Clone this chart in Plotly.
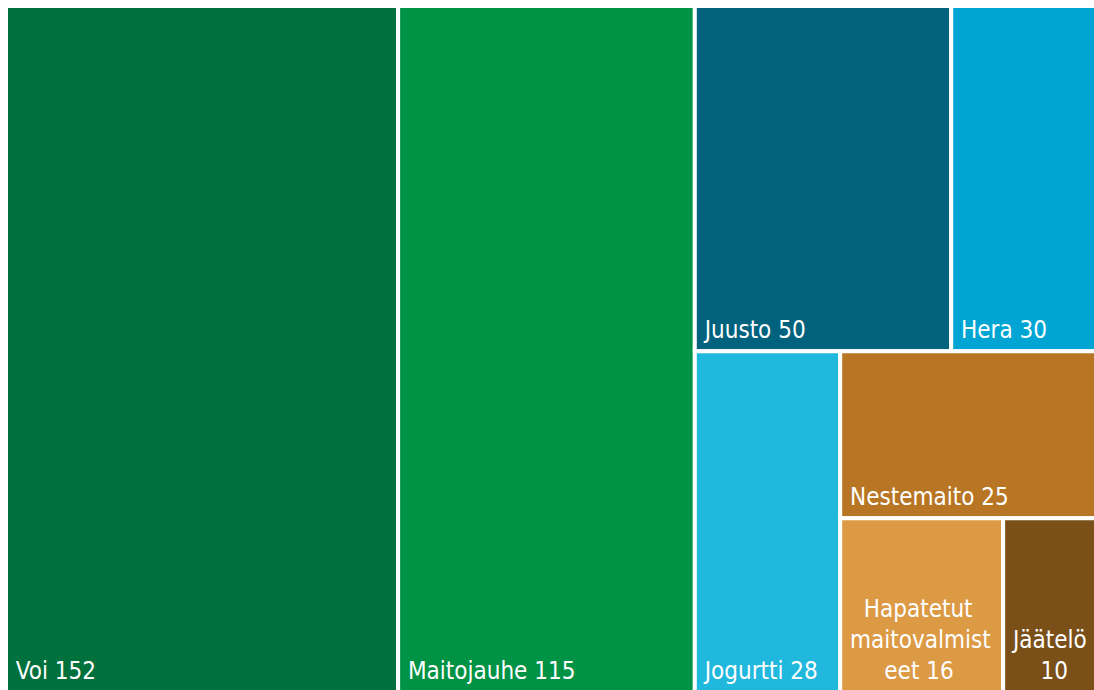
import plotly.graph_objects as go

# Data
labels = ["Voi", "Maitojauhe", "Juusto", "Hera", "Jogurtti", "Nestemaito",
          "Hapatetut maitovalmisteet", "Jäätelö"]
values = [152, 115, 50, 30, 28, 25, 16, 10]
# how the long names wrap (and are centred) inside their small boxes
wrapped_lines = {
    "Hapatetut maitovalmisteet": ["Hapatetut", "maitovalmist", "eet"],
    "Jäätelö": ["Jäätelö", ""],
}
colors = ["#00703C", "#009245", "#00627D", "#00A5D3", "#21B8DD", "#B87624",
          "#DC9A45", "#7A4F18"]

NB = "\u00a0"
# invisible tall spacer at the end: lifts the label off the tile's bottom edge
LIFT = '<span style="font-size:44px">' + NB + "</span>"
# extra leading spaces to centre the shorter wrapped lines
centre_pad = {"Hapatetut": 2, "maitovalmist": 0, "eet": 5, "Jäätelö": 0, "": 4}

texts = []
for lab, val in zip(labels, values):
    if lab in wrapped_lines:
        lines = list(wrapped_lines[lab])
        lines[-1] = (lines[-1] + " " + str(val)).strip()
        keys = wrapped_lines[lab]
        out = [NB * (1 + centre_pad[k]) + ln for k, ln in zip(keys, lines)]
        texts.append("<br>".join(out) + LIFT)
    else:
        texts.append(NB + f"{lab} {val}" + LIFT)

fig = go.Figure(go.Treemap(
    labels=labels,
    parents=[""] * len(labels),
    values=values,
    text=texts,
    texttemplate="%{text}",
    textposition="bottom left",
    textfont=dict(family="DejaVu Sans Condensed, DejaVu Sans, sans-serif",
                  size=24, color="white"),
    marker=dict(colors=colors, line=dict(color="white", width=4),
                pad=dict(t=0, l=0, r=0, b=0)),
    tiling=dict(packing="binary", pad=0),
    pathbar=dict(visible=False),
    sort=True,
    hoverinfo="label+value",
))

fig.update_layout(
    width=1105, height=692,
    margin=dict(l=6, t=6, r=0, b=0),
    paper_bgcolor="white",
    plot_bgcolor="white",
)

fig.write_html(
    "out.html",
    config={"displayModeBar": False},
    post_script=(
        "document.documentElement.style.overflow='hidden';"
        "var b=document.body;b.style.margin='0';b.style.overflow='hidden';"
        "b.style.width='1094px';b.style.height='690px';"
    ),
)
